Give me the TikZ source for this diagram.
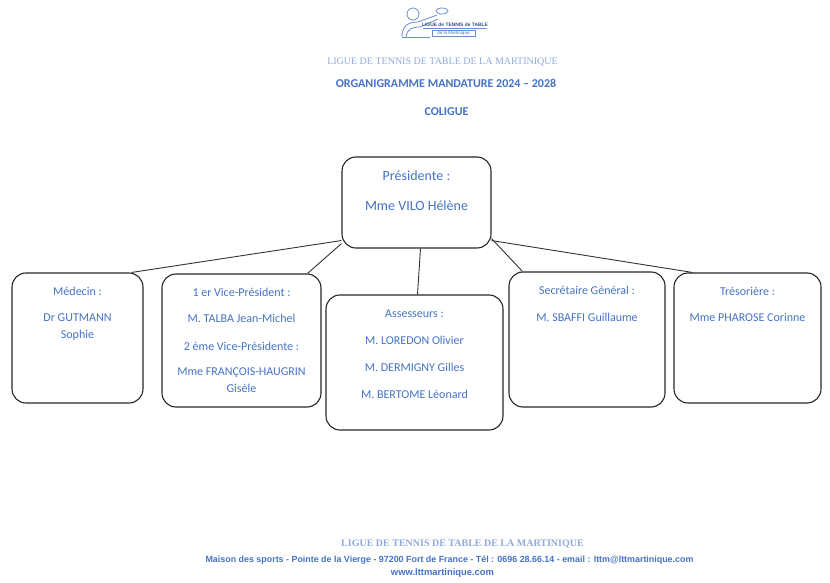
\documentclass[tikz,border=0pt]{standalone}
\usepackage{fontspec}
\setmainfont{Carlito}
\newfontfamily\timesf{Liberation Serif}
\newfontfamily\arialf{Liberation Sans}
\usetikzlibrary{positioning}
\definecolor{ltblue}{HTML}{4472C4}
\definecolor{paleblue}{HTML}{8EAADB}

\begin{document}
\begin{tikzpicture}[x=1pt,y=-1pt,
   box/.style={draw=black!85, line width=1.1pt, rounded corners=14pt, inner sep=0pt},
   txt/.style={text=ltblue, align=center, anchor=north, inner sep=0pt, font=\fontsize{12}{17}\selectfont},
   link/.style={draw=black!80, line width=.9pt}]
 \useasboundingbox (0,0) rectangle (830,583);
 % logo
 \begin{scope}[draw=ltblue!80, line width=.8pt]
   \draw (413,14) circle (6pt);
   \draw (402,37) .. controls (402,26) and (408,22) .. (418,22) -- (437,15);
   \draw (406,37) .. controls (407,29) and (412,27) .. (420,27) -- (438,19);
   \draw (442,11) ellipse (6pt and 3pt);
   \draw (402,37) -- (430,37);
   \draw (423,28.5) -- (487,28.5);
   \draw (432,30.5) rectangle (475,36);
 \end{scope}
 \node (lg1) [inner sep=0pt, text=ltblue!70!black, font=\arialf\bfseries\fontsize{4.9}{6}\selectfont] at (455,25) {LIGUE de TENNIS de TABLE};
 \node (lg2) [inner sep=0pt, text=ltblue, font=\arialf\fontsize{4.5}{5}\selectfont] at (453.5,33.3) {de la Martinique};
 % titres
 \node (t1) [text=paleblue, font=\timesf\fontsize{10}{11}\selectfont] at (442.5,62.5) {LIGUE DE TENNIS DE TABLE DE LA MARTINIQUE};
 \node (t2) [text=ltblue, font=\bfseries\fontsize{12}{13}\selectfont] at (446,83.5) {ORGANIGRAMME MANDATURE 2024 -- 2028};
 \node (t3) [text=ltblue, font=\bfseries\fontsize{12}{13}\selectfont] at (446.5,111.5) {COLIGUE};
 % boites
 \node (pres) [box, minimum width=149pt, minimum height=91pt] at (416.5,202.5) {};
 \node (med) [box, minimum width=131pt, minimum height=130pt] at (77.5,338) {};
 \node (vp) [box, minimum width=159pt, minimum height=133pt] at (241.5,340.5) {};
 \node (ass) [box, minimum width=177pt, minimum height=135pt] at (414.5,362.5) {};
 \node (sec) [box, minimum width=156pt, minimum height=135pt] at (587,339.5) {};
 \node (tres) [box, minimum width=147pt, minimum height=130pt] at (747.5,338) {};
 \node (presT) [txt, font=\fontsize{14}{17}\selectfont] at ([yshift=-14.5pt]pres.north) {Présidente :\\[13pt]Mme VILO Hélène};
 \node (medT) [txt] at ([yshift=-15pt]med.north) {Médecin :\\[9pt]Dr GUTMANN\\Sophie};
 \node (vpT) [txt] at ([yshift=-15pt]vp.north) {1 er Vice-Président :\\[9pt]M. TALBA Jean-Michel\\[11pt]2 ème Vice-Présidente :\\[8pt]Mme FRANÇOIS-HAUGRIN\\Gisèle};
 \node (assT) [txt] at ([yshift=-15pt]ass.north) {Assesseurs :\\[10pt]M. LOREDON Olivier\\[10pt]M. DERMIGNY Gilles\\[10pt]M. BERTOME Léonard};
 \node (secT) [txt] at ([yshift=-15pt]sec.north) {Secrétaire Général :\\[10pt]M. SBAFFI Guillaume};
 \node (tresT) [txt] at ([yshift=-15pt]tres.north) {Trésorière :\\[9pt]Mme PHAROSE Corinne};
 % liens
 \draw [link] ([yshift=8pt]pres.south west) -- ([xshift=-12pt]med.north east);
 \draw [link] ([yshift=5pt]pres.south west) -- ([xshift=-14pt]vp.north east);
 \draw [link] ([xshift=4pt]pres.south) -- ([xshift=3pt]ass.north);
 \draw [link] ([yshift=10pt]pres.south east) -- ([xshift=14pt]sec.north west);
 \draw [link] ([yshift=8pt]pres.south east) -- ([xshift=19pt]tres.north west);
 % pied de page
 \node (f1) [text=paleblue, font=\timesf\bfseries\fontsize{10}{11}\selectfont] at (462.5,544) {LIGUE DE TENNIS DE TABLE DE LA MARTINIQUE};
 \node (f2) [text=ltblue, font=\arialf\bfseries\fontsize{8.9}{10}\selectfont] at (449.5,560) {Maison des sports - Pointe de la Vierge - 97200 Fort de France - Tél : 0696 28.66.14 - email : lttm@lttmartinique.com};
 \node (f3) [text=ltblue, font=\arialf\bfseries\fontsize{9.4}{10}\selectfont] at (442.5,573) {www.lttmartinique.com};
\end{tikzpicture}
\end{document}
